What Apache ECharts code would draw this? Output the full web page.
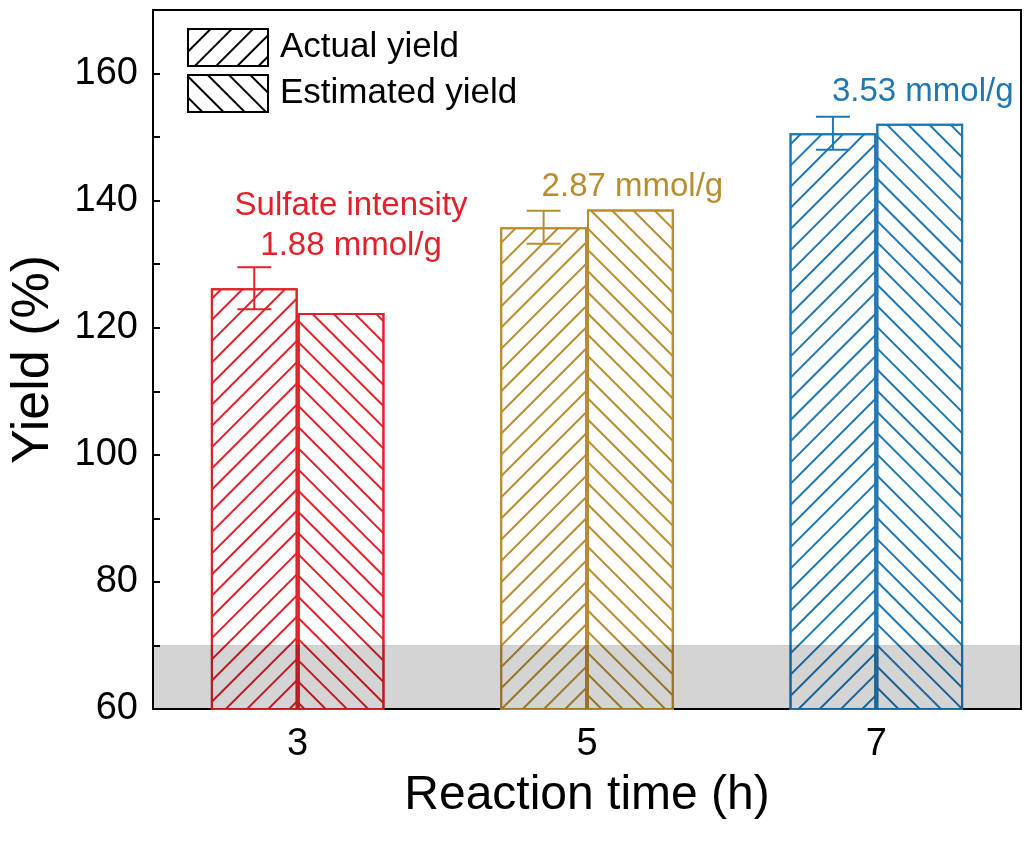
<!DOCTYPE html>
<html>
<head>
<meta charset="utf-8">
<script src="https://cdn.jsdelivr.net/npm/echarts@6/dist/echarts.min.js"></script>
<style>
  html, body { margin: 0; padding: 0; background: #fff; }
  #main { width: 1026px; height: 846px; }
</style>
</head>
<body>
<div id="main"></div>
<script type="text/javascript">
    // data
    var times = ['3', '5', '7'];
    var actualYield = [126.2, 135.8, 150.6];
    var actualErr = [3.3, 2.6, 2.6];
    var estimatedYield = [122.3, 138.6, 152.1];
    var sulfateNotes = ['Sulfate intensity\n1.88 mmol/g', '2.87 mmol/g', '3.53 mmol/g'];
    var shadedRange = [60, 70];

    var colors = ['#e3202a', '#b88c2f', '#1f77b4'];
    var noteDistance = [47, 3, 12];
    var noteOffset = [10, 2, 3];
    var FONT = '"Liberation Sans", Arial, sans-serif';

    // dir -1 gives "/" lines, +1 gives "\" lines
    function hatch(color, dir) {
        return {
            symbol: 'rect',
            symbolSize: 1,
            dashArrayX: [1, 0],
            dashArrayY: [1.4, 12.4],
            rotation: dir * Math.PI / 4,
            color: color
        };
    }

    var dom = document.getElementById('main');
    var myChart = echarts.init(dom);

    var actualData = actualYield.map(function (v, i) {
        return { value: v, itemStyle: { borderColor: colors[i], decal: hatch(colors[i], -1) } };
    });
    var estimatedData = estimatedYield.map(function (v, i) {
        return {
            value: v,
            itemStyle: { borderColor: colors[i], decal: hatch(colors[i], 1) },
            label: {
                show: true,
                position: 'top',
                distance: noteDistance[i],
                offset: [noteOffset[i], 0],
                formatter: sulfateNotes[i],
                color: colors[i],
                fontSize: 33,
                lineHeight: 40,
                fontFamily: FONT
            }
        };
    });
    var errData = actualYield.map(function (v, i) {
        return [i, v, v - actualErr[i], v + actualErr[i]];
    });

    var option = {
        backgroundColor: '#fff',
        animation: false,
        grid: {
            left: 152, right: 5, top: 10, bottom: 137,
            show: true, borderColor: '#000', borderWidth: 2
        },
        legend: {
            orient: 'vertical',
            left: 187, top: 28,
            padding: 0,
            itemWidth: 80, itemHeight: 37, itemGap: 7,
            icon: 'rect',
            textStyle: { fontSize: 35, color: '#000', fontFamily: FONT, padding: [0, 0, 0, 7] },
            data: [
                { name: 'Actual yield', itemStyle: { color: '#fff', borderColor: '#000', borderWidth: 2, decal: hatch('#000', -1) } },
                { name: 'Estimated yield', itemStyle: { color: '#fff', borderColor: '#000', borderWidth: 2, decal: hatch('#000', 1) } }
            ]
        },
        xAxis: {
            type: 'category',
            data: times,
            name: 'Reaction time (h)',
            nameLocation: 'middle',
            nameGap: 63,
            nameTextStyle: { fontSize: 48, color: '#000', fontFamily: FONT },
            axisLine: { lineStyle: { color: '#000', width: 2 } },
            axisTick: { show: false },
            axisLabel: { fontSize: 38, color: '#000', margin: 17, fontFamily: FONT },
            splitLine: { show: false }
        },
        yAxis: {
            type: 'value',
            min: 60, max: 170, interval: 10,
            name: 'Yield (%)',
            nameLocation: 'middle',
            nameGap: 93,
            nameTextStyle: { fontSize: 52, color: '#000', fontFamily: FONT },
            axisLine: { show: true, lineStyle: { color: '#000', width: 2 } },
            axisTick: { show: true, inside: true, length: 7, lineStyle: { color: '#000', width: 2 } },
            axisLabel: {
                fontSize: 38, color: '#000', margin: 15, fontFamily: FONT, showMaxLabel: false,
                formatter: function (v) { return v % 20 === 0 ? String(v) : ''; }
            },
            splitLine: { show: false }
        },
        series: [
            {
                name: 'Actual yield',
                type: 'bar',
                barWidth: '30%',
                barGap: '0%',
                itemStyle: { color: '#fff', borderWidth: 2 },
                data: actualData,
                z: 2
            },
            {
                name: 'Estimated yield',
                type: 'bar',
                barWidth: '30%',
                barGap: '0%',
                itemStyle: { color: '#fff', borderWidth: 2 },
                data: estimatedData,
                z: 2
            },
            {
                name: 'error',
                type: 'custom',
                z: 5,
                data: errData,
                encode: { x: 0, y: [1, 2, 3] },
                renderItem: function (params, api) {
                    var i = api.value(0);
                    var band = api.size([1, 0])[0];
                    var cx = api.coord([i, api.value(1)])[0] - band * 0.15;
                    var lo = api.coord([i, api.value(2)])[1];
                    var hi = api.coord([i, api.value(3)])[1];
                    var half = 17;
                    var st = { stroke: colors[i], lineWidth: 2 };
                    return {
                        type: 'group',
                        children: [
                            { type: 'line', shape: { x1: cx, y1: lo, x2: cx, y2: hi }, style: st },
                            { type: 'line', shape: { x1: cx - half, y1: hi, x2: cx + half, y2: hi }, style: st },
                            { type: 'line', shape: { x1: cx - half, y1: lo, x2: cx + half, y2: lo }, style: st }
                        ]
                    };
                }
            },
            {
                name: 'shade',
                type: 'custom',
                z: 10,
                silent: true,
                data: [[0, shadedRange[0], shadedRange[1]]],
                encode: { x: 0, y: [1, 2] },
                renderItem: function (params, api) {
                    var cs = params.coordSys;
                    var y0 = api.coord([0, api.value(1)])[1];
                    var y1 = api.coord([0, api.value(2)])[1];
                    return {
                        type: 'group',
                        children: [
                            { type: 'rect', shape: { x: cs.x, y: y1, width: cs.width, height: y0 - y1 },
                              style: { fill: 'rgba(0,0,0,0.17)' } },
                            { type: 'line', shape: { x1: cs.x, y1: y1, x2: cs.x + cs.width, y2: y1 },
                              style: { stroke: 'rgba(0,0,0,0.12)', lineWidth: 1 } }
                        ]
                    };
                }
            }
        ]
    };

    myChart.setOption(option, true);
</script>
</body>
</html>
